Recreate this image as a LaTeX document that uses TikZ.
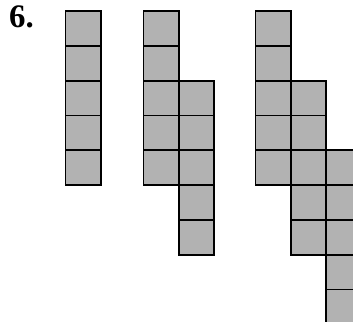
\documentclass[tikz,border=0pt]{standalone}
\usepackage{fontspec}
\setmainfont{Liberation Serif}
\begin{document}
\begin{tikzpicture}[x=1bp,y=-1bp,
  cell/.style={fill=black!30,draw=black,line width=1.8bp}]
\useasboundingbox (0,0) rectangle (353,322);
\clip (0,0) rectangle (353,322);
\fill[white] (0,0) rectangle (353,322);
\node[anchor=north west,inner sep=0pt,font=\fontsize{33}{35}\selectfont\bfseries] (num) at (9,6) {6.};
% figure 1
\foreach \r in {0,...,4} {\draw[cell] (65.5,11+\r*34.8) rectangle ++(35.3,34.8);}
% figure 2
\foreach \r in {0,...,4} {\draw[cell] (143.5,11+\r*34.8) rectangle ++(35.3,34.8);}
\foreach \r in {2,...,6} {\draw[cell] (178.8,11+\r*34.8) rectangle ++(35.3,34.8);}
% figure 3
\foreach \r in {0,...,4} {\draw[cell] (255.5,11+\r*34.8) rectangle ++(35.3,34.8);}
\foreach \r in {2,...,6} {\draw[cell] (290.8,11+\r*34.8) rectangle ++(35.3,34.8);}
\foreach \r in {4,...,8} {\draw[cell] (326.1,11+\r*34.8) rectangle ++(35.3,34.8);}
\end{tikzpicture}
\end{document}
